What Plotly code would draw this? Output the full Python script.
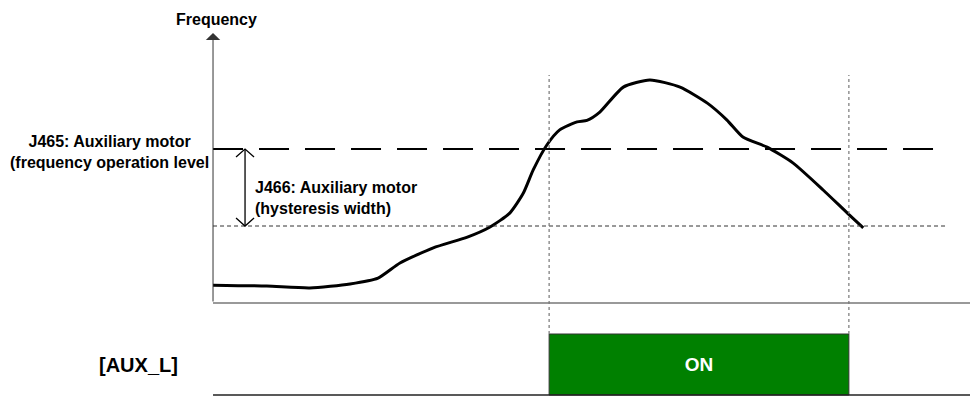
import plotly.graph_objects as go

# ---------------- data ----------------
time = [0, 7.1, 12.8, 18.1, 21.8, 24.7, 29.1, 33.6, 36.6, 39.2, 41.0, 42.3, 44.1,
        45.8, 48.1, 49.4, 51.1, 54.2, 57.7, 61.7, 65.3, 67.9, 70.0, 73.2, 76.6,
        80.6, 83.8, 85.9]
frequency = [5.8, 5.5, 4.9, 6.2, 8.1, 13.0, 17.9, 21.4, 24.7, 29.2, 35.7, 43.2, 51.3,
             56.2, 58.8, 59.3, 62.0, 70.1, 72.4, 70.1, 64.9, 59.4, 53.9, 50.6, 45.5,
             36.7, 29.2, 24.4]
operation_level = 50       # J465
hysteresis_width = 25      # J466
lower_level = operation_level - hysteresis_width
level_line_end = 95.4
hyst_line_end = 97.0
aux_on = [44.4, 84.0]      # [AUX_L] ON interval (time)
aux_state = 1

# ---------------- layout helpers ----------------
W, H = 970, 398
X_RANGE = [-28.14, 100.0]          # time axis covering full width
Y_RANGE = [-30.84, 98.38]          # frequency axis covering full height
Y2_RANGE = [-0.049, 6.475]         # signal axis covering full height


def f_to_paper(v):
    return (v - Y_RANGE[0]) / (Y_RANGE[1] - Y_RANGE[0])


def s_to_paper(v):
    return (v - Y2_RANGE[0]) / (Y2_RANGE[1] - Y2_RANGE[0])


FONT = "Liberation Sans, Arial, sans-serif"

fig = go.Figure()

# frequency curve
fig.add_trace(go.Scatter(x=time, y=frequency, mode="lines",
                         line=dict(color="black", width=3, shape="spline", smoothing=0.6),
                         hoverinfo="skip", showlegend=False))

# J465 operation level (long dashes)
fig.add_trace(go.Scatter(x=[0, level_line_end], y=[operation_level, operation_level],
                         mode="lines", line=dict(color="black", width=2, dash="30px,16px"),
                         hoverinfo="skip", showlegend=False))

# lower level (operation level - hysteresis width), short dashes
fig.add_trace(go.Scatter(x=[0, hyst_line_end], y=[lower_level, lower_level],
                         mode="lines", line=dict(color="#333", width=1, dash="4px,3px"),
                         hoverinfo="skip", showlegend=False))

# double-headed arrow for hysteresis width
ax_t = 4.23
hdx, hdy = 1.19, 2.6
arrow_x = [ax_t, ax_t, None,
           ax_t - hdx, ax_t, ax_t + hdx, None,
           ax_t - hdx, ax_t, ax_t + hdx]
arrow_y = [lower_level, operation_level, None,
           operation_level - hdy, operation_level, operation_level - hdy, None,
           lower_level + hdy, lower_level, lower_level + hdy]
fig.add_trace(go.Scatter(x=arrow_x, y=arrow_y, mode="lines",
                         line=dict(color="black", width=1.3),
                         hoverinfo="skip", showlegend=False))

# [AUX_L] ON bar
fig.add_trace(go.Bar(x=[(aux_on[0] + aux_on[1]) / 2], y=[aux_state], base=[0],
                     width=[aux_on[1] - aux_on[0]], yaxis="y2",
                     marker=dict(color="#008000", line=dict(color="#333", width=1)),
                     text=["<b>ON</b>"], textposition="inside", insidetextanchor="middle",
                     textfont=dict(family=FONT, size=19, color="white"),
                     hoverinfo="skip", showlegend=False))

shapes = []
# x axis (frequency panel)
shapes.append(dict(type="line", xref="x", yref="y", x0=0, x1=X_RANGE[1], y0=0, y1=0,
                   line=dict(color="#777", width=1.5)))
# baseline (signal panel)
shapes.append(dict(type="line", xref="x", yref="y2", x0=0, x1=X_RANGE[1], y0=0, y1=0,
                   line=dict(color="#222", width=1.5)))
# vertical dotted markers at switching instants
for t in aux_on:
    shapes.append(dict(type="line", xref="x", yref="paper", x0=t, x1=t,
                       y0=s_to_paper(aux_state), y1=f_to_paper(74.0),
                       line=dict(color="#777", width=1.2, dash="dot")))

annotations = [
    # y axis with arrow
    dict(x=0, y=87.7, ax=0, ay=0, xref="x", yref="y", axref="x", ayref="y",
         showarrow=True, arrowhead=1, arrowsize=2.4, arrowwidth=1, arrowcolor="#333",
         standoff=0, startstandoff=0, text=""),
    dict(x=0.5, y=92.0, xref="x", yref="y", text="<b>Frequency</b>", showarrow=False,
         xanchor="center", yanchor="middle", font=dict(family=FONT, size=16, color="black")),
    dict(x=-13.74, y=48.9, xref="x", yref="y",
         text="<b>J465: Auxiliary motor<br>(frequency operation level</b>",
         showarrow=False, xanchor="center", yanchor="middle", align="center",
         font=dict(family=FONT, size=16, color="black")),
    dict(x=5.28, y=34.1, xref="x", yref="y",
         text="<b>J466: Auxiliary motor<br>(hysteresis width)</b>",
         showarrow=False, xanchor="left", yanchor="middle", align="left",
         font=dict(family=FONT, size=16, color="black")),
    dict(x=-9.78, y=0.5, xref="x", yref="y2", text="<b>[AUX_L]</b>", showarrow=False,
         xanchor="center", yanchor="middle", font=dict(family=FONT, size=20, color="black")),
]

fig.update_layout(
    width=W, height=H,
    margin=dict(l=0, r=0, t=0, b=0),
    paper_bgcolor="white", plot_bgcolor="white",
    xaxis=dict(range=X_RANGE, domain=[0, 1], visible=False, fixedrange=True),
    yaxis=dict(range=Y_RANGE, domain=[0, 1], visible=False, fixedrange=True),
    yaxis2=dict(range=Y2_RANGE, overlaying="y", visible=False, fixedrange=True),
    shapes=shapes,
    annotations=annotations,
    uniformtext=dict(minsize=19, mode="show"),
    showlegend=False,
)

fig.write_html("out.html", config={"displayModeBar": False},
               post_script="document.body.style.margin='0';document.body.style.overflow='hidden';")
